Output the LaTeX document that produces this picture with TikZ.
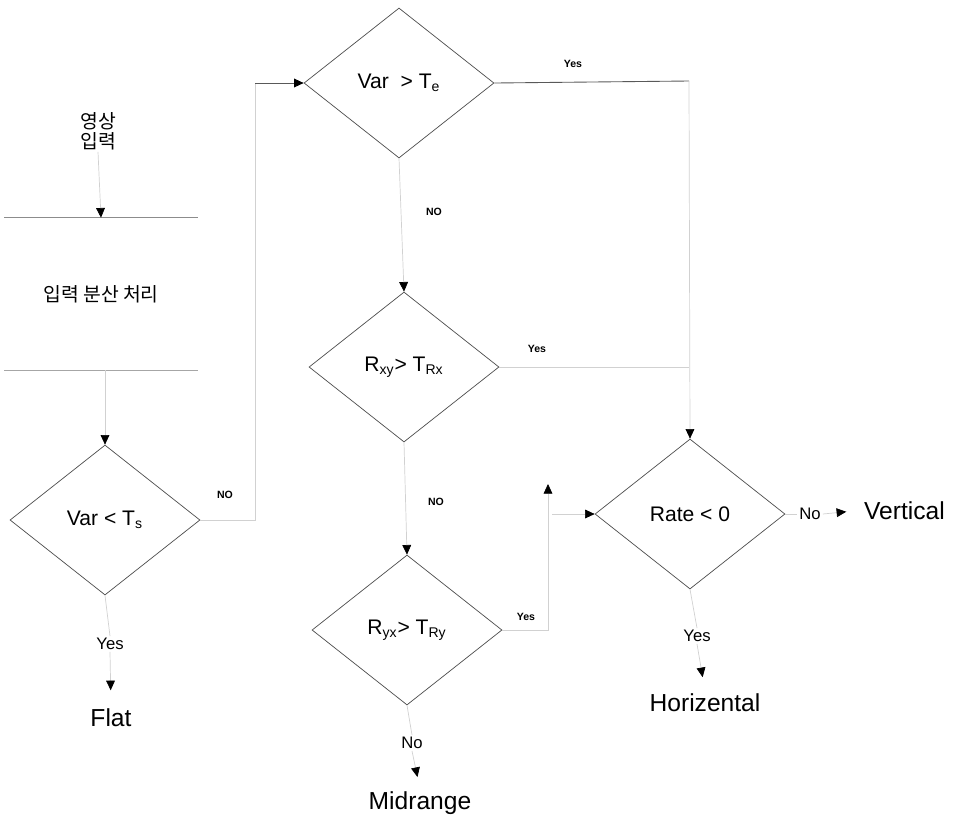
\documentclass[tikz,border=0pt]{standalone}
\usepackage{fontspec}
\setmainfont{Liberation Sans}
\newfontfamily\krfont{Noto Sans CJK KR}
\usetikzlibrary{shapes.geometric,arrows.meta}
\def\dw{3.8cm}
\def\dh{3.0cm}
\def\px{0.02cm}

\tikzset{
  decide/.style={diamond, draw=black!70, line width=0.4pt, inner sep=0pt,
    minimum width=\dw, minimum height=\dh, font=\fontsize{12}{14}\selectfont},
  faint/.style={draw=black!18, line width=0.4pt},
  dark/.style={draw=black!65, line width=0.5pt},
  flow/.style={-{Triangle[length=5.5pt,width=5pt,color=black]}},
  tinylab/.style={inner sep=1pt, font=\bfseries\fontsize{6}{7}\selectfont},
  midlab/.style={inner sep=1pt, font=\fontsize{9.5}{11}\selectfont},
  result/.style={inner sep=1pt, anchor=base, font=\fontsize{14}{16}\selectfont},
  kr/.style={inner sep=1pt, font=\krfont\fontsize{11}{11.5}\selectfont}
}

\begin{document}
\begin{tikzpicture}[x=\px,y=-\px]

\useasboundingbox (0,0) rectangle (953,816);

%input and pre-processing
\node[kr, align=center] (img) at (98,131) {영상\\입력};
\node[kr, minimum width=3.86cm, minimum height=3.04cm] (proc) at (101,294) {입력 분산 처리};
\draw[black!45, line width=0.5pt] (proc.north west) -- (proc.north east);
\draw[black!35, line width=0.5pt] (proc.south west) -- (proc.south east);
\draw[faint, flow] (img.south) -- (proc.north);

%decisions
\node[decide] (dte) at (399,83) {Var\ \ > T\textsubscript{e}};
\node[decide] (drx) at (404,367) {R\textsubscript{xy}> T\textsubscript{Rx}};
\node[decide] (dry) at (407,630) {R\textsubscript{yx}> T\textsubscript{Ry}};
\node[decide] (dts) at (105,520) {Var < T\textsubscript{s}};
\node[decide] (drate) at (690,514) {Rate < 0};

%results
\node[result] (flat) at (111,726) {Flat};
\node[result] (midr) at (420,809) {Midrange};
\node[result] (horz) at (705,711) {Horizental};
\node[result, anchor=base west] (vert) at (862,519) {Vertical};

%branch labels
\node[tinylab] (yte) at (573,64) {Yes};
\node[tinylab] (nte) at (434,212) {NO};
\node[tinylab] (yrx) at (537,349) {Yes};
\node[tinylab] (nrx) at (436,502) {NO};
\node[tinylab] (yry) at (526,617) {Yes};
\node[tinylab] (nts) at (225,495) {NO};
\node[midlab] (yts) at (110,644) {Yes};
\node[midlab] (nry) at (412,743) {No};
\node[midlab] (yrate) at (697,636) {Yes};
\node[midlab] (nrate) at (810,514) {No};

%connectors
\coordinate (lup) at (255,83);
\coordinate (yesr) at (689,81);
\coordinate (ryup) at (548,484);
\coordinate (ryin) at (552,514);

\draw[faint, flow] (proc.south -| dts.north) -- (dts.north);
\draw[faint] (dts.east) -| (lup);
\draw[dark, flow] (lup) -- (dte.west);
\draw[dark] (dte.east) -- (yesr);
\draw[faint, flow] (yesr) -- (drate.north);
\draw[faint, flow] (dte.south) -- (drx.north);
\draw[faint] (drx.east) -- (drx.east -| yesr);
\draw[faint, flow] (drx.south) -- (dry.north);
\draw[faint, flow] (dry.east) -| (ryup);
\draw[faint, flow] (ryin) -- (drate.west);

\draw[faint] (dts.south) -- (yts.north);
\draw[faint, flow, shorten >=9pt] (yts.south) -- (flat.north);
\draw[faint] (dry.south) -- (nry.north);
\draw[faint, flow, shorten >=7pt] (nry.south) -- (midr.north);
\draw[faint] (drate.south) -- (yrate.north);
\draw[faint, flow, shorten >=8pt] (yrate.south) -- (horz.north);
\draw[faint] (drate.east) -- (nrate.west);
\draw[faint, flow, shorten >=9pt] (nrate.east) -- (vert.west);

\end{tikzpicture}
\end{document}
